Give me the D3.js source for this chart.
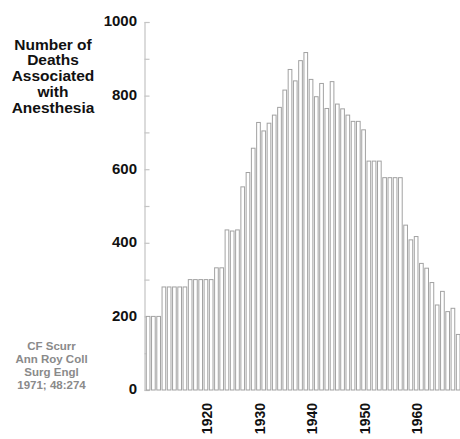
<!DOCTYPE html>
<html>
<head>
<meta charset="utf-8">
<script src="https://cdn.jsdelivr.net/npm/d3@7"></script>
<style>
  html, body { margin: 0; padding: 0; background: #fff; }
  svg { display: block; }
  text { font-family: "Liberation Sans", Arial, Helvetica, sans-serif; font-weight: bold; }
</style>
</head>
<body>
<svg id="chart" width="460" height="439"></svg>
<script>
// ---- data ----
const years = d3.range(1909, 1969);
const deaths = [
  200, 200, 200,
  280, 280, 280, 280, 280,
  300, 300, 300, 300, 300,
  332, 332,
  435, 432, 435,
  552, 591, 657, 727, 704, 725, 747, 768, 815, 871, 840, 895, 917,
  844, 797, 833, 765, 838, 777, 764, 747, 730, 730, 707,
  622, 622, 622,
  577, 577, 577, 577,
  448, 408, 417, 344, 331, 292, 231, 268, 213, 222, 151
];
const yTicks = [0, 200, 400, 600, 800, 1000];
const yMinorTicks = d3.range(0, 1001, 100);
const xLabelYears = [1920, 1930, 1940, 1950, 1960];
const titleLines = ["Number of", "Deaths", "Associated", "with", "Anesthesia"];
const sourceLines = ["CF Scurr", "Ann Roy Coll", "Surg Engl", "1971; 48:274"];

// ---- scales ----
const svg = d3.select("#chart");
const x = d3.scaleBand().domain(years).range([145, 460.3]).paddingInner(0.3).paddingOuter(0.15);
const y = d3.scaleLinear().domain([0, 1000]).range([390, 22]);

// ---- y axis ----
const yAxis = d3.axisRight(y).tickValues(yMinorTicks).tickSize(5).tickFormat("");
const gy = svg.append("g").attr("transform", "translate(144.5,0)").call(yAxis);
gy.select(".domain").attr("stroke", "#c4c4c4").attr("stroke-width", 1.2);
gy.selectAll(".tick line").attr("stroke", "#c4c4c4").attr("stroke-width", 1.2);

svg.append("g").selectAll("text").data(yTicks).join("text")
  .attr("x", 137)
  .attr("y", d => y(d) - 1)
  .attr("dy", "0.36em")
  .attr("text-anchor", "end")
  .attr("font-size", 15)
  .attr("fill", "#111")
  .text(d => d);

// ---- bars ----
svg.append("g").selectAll("rect").data(years).join("rect")
  .attr("x", (d) => x(d) + 0.5)
  .attr("y", (d, i) => y(deaths[i]))
  .attr("width", x.bandwidth())
  .attr("height", (d, i) => y(0) - y(deaths[i]))
  .attr("fill", "#fff")
  .attr("stroke", "#a2a2a2")
  .attr("stroke-width", 1);

// ---- x labels ----
svg.append("g").selectAll("text").data(xLabelYears).join("text")
  .attr("transform", d => `translate(${x(d) + x.bandwidth() / 2 + 1.5},403) rotate(-90)`)
  .attr("dy", "0.36em")
  .attr("text-anchor", "end")
  .attr("font-size", 14)
  .attr("fill", "#111")
  .text(d => d);

// ---- title ----
svg.append("g").selectAll("text").data(titleLines).join("text")
  .attr("x", 53)
  .attr("y", (d, i) => 49.5 + i * 15.8)
  .attr("text-anchor", "middle")
  .attr("font-size", 15.5)
  .attr("fill", "#111")
  .text(d => d);

// ---- source ----
svg.append("g").selectAll("text").data(sourceLines).join("text")
  .attr("x", 51.5)
  .attr("y", (d, i) => 350 + i * 13)
  .attr("text-anchor", "middle")
  .attr("font-size", 11.5)
  .attr("fill", "#8a8a8a")
  .text(d => d);
</script>
</body>
</html>
